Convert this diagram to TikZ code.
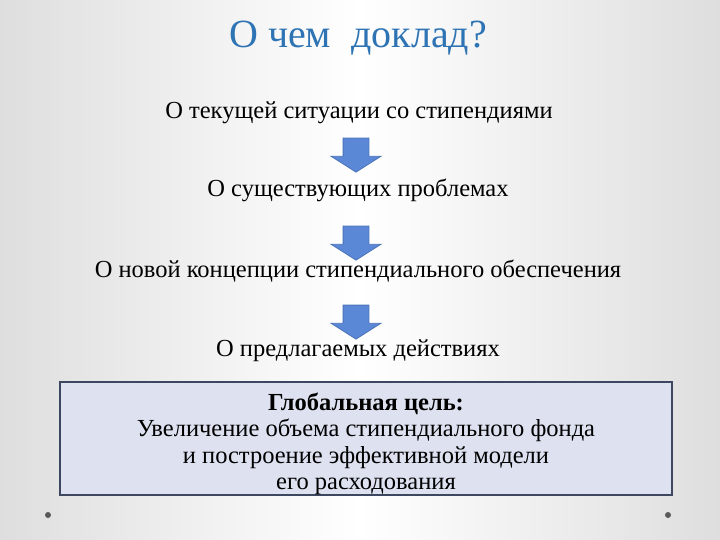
\documentclass[tikz,border=0pt]{standalone}
\usepackage{fontspec}
\setmainfont{Liberation Serif}
\usepackage[HTML]{xcolor}
\usetikzlibrary{positioning, shapes.arrows}

\definecolor{titleblue}{HTML}{2E74B5}
\definecolor{arrowfill}{HTML}{5B88D6}
\definecolor{arrowedge}{HTML}{4A72B8}
\definecolor{goalfill}{HTML}{DDE1F0}
\definecolor{goaledge}{HTML}{3E4760}

\tikzset{
  topic/.style={font=\fontsize{24.5}{28}\selectfont, inner sep=0pt},
  downarrow/.style={single arrow, draw=arrowedge, fill=arrowfill, line width=0.8pt,
    shape border rotate=270, inner sep=12.5pt, minimum height=31pt,
    single arrow head extend=12pt, single arrow tip angle=115},
  goalbox/.style={draw=goaledge, fill=goalfill, line width=2.5pt, inner sep=0pt,
    minimum width=612pt, minimum height=113pt, align=center,
    font=\fontsize{24.5}{26.5}\selectfont},
}

\begin{document}
\begin{tikzpicture}[x=1pt, y=-1pt]

% --- background ---
\shade[left color=black!13, right color=black!13, middle color=white] (0,0) rectangle (720,540);
\useasboundingbox (0,0) rectangle (720,540);

% --- title ---
\node[titleblue, font=\fontsize{40}{46}\selectfont] (title) at (358,38) {О чем\ \ доклад?};

% --- list of topics ---
\node[topic] (current) at (359,113) {О текущей ситуации со стипендиями};
\node[topic] (problems) at (358,190) {О существующих проблемах};
\node[topic] (concept) at (358,271) {О новой концепции стипендиального обеспечения};
\node[topic] (actions) at (358,351) {О предлагаемых действиях};

% --- arrows between topics ---
\node[downarrow] (arrowA) at (356,151) {};
\node[downarrow] (arrowB) at (356,239) {};
\node[downarrow] (arrowC) at (356,318) {};

% --- goal box ---
\node[goalbox] (goal) at (366,438.5) {\rule{0pt}{28pt}\textbf{Глобальная цель:}\\
  Увеличение объема стипендиального фонда\\
  и построение эффективной модели\\
  его расходования};

% --- corner dots ---
\fill[black!65] (48,515) circle (3);
\fill[black!65] (668,515) circle (3);

\end{tikzpicture}
\end{document}
